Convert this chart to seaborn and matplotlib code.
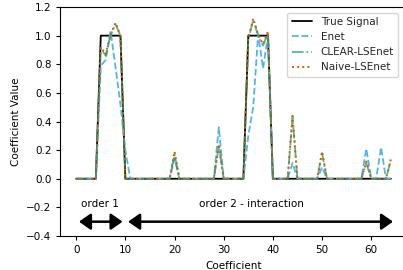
import matplotlib
matplotlib.use("Agg")
import matplotlib.pyplot as plt
import numpy as np
import seaborn as sns

# ------------------------------------------------------------------------------
# Data
# ------------------------------------------------------------------------------

coef_index = list(range(65))

true_signal = [
    0, 0, 0, 0, 0, 1, 1, 1, 1, 1,
    0, 0, 0, 0, 0, 0, 0, 0, 0, 0,
    0, 0, 0, 0, 0, 0, 0, 0, 0, 0,
    0, 0, 0, 0, 0, 1, 1, 1, 1, 1,
    0, 0, 0, 0, 0, 0, 0, 0, 0, 0,
    0, 0, 0, 0, 0, 0, 0, 0, 0, 0,
    0, 0, 0, 0, 0,
]

enet = [
    0, 0, 0, 0, 0, 0.79, 0.83, 1.03, 0.78, 0.52,
    0.20, 0, 0, 0, 0, 0, 0, 0, 0, 0,
    0.14, 0, 0, 0, 0, 0, 0, 0, 0, 0.36,
    0, 0, 0, 0, 0, 0.30, 0.50, 1.01, 0.77, 1.00,
    0, 0, 0, 0, 0.11, 0, 0, 0, 0, 0,
    0.08, 0, 0, 0, 0, 0, 0, 0, 0, 0.21,
    0, 0, 0.22, 0, 0,
]

clear_lsenet = [
    0, 0, 0, 0, 0, 0.91, 0.86, 1.00, 1.08, 1.00,
    0, 0, 0, 0, 0, 0, 0, 0, 0, 0,
    0.17, 0, 0, 0, 0, 0, 0, 0, 0, 0.23,
    0, 0, 0, 0, 0, 0.97, 1.11, 1.00, 0.93, 1.02,
    0, 0, 0, 0, 0.43, 0, 0, 0, 0, 0,
    0.18, 0, 0, 0, 0, 0, 0, 0, 0, 0.11,
    0, 0, 0, 0, 0.13,
]

naive_lsenet = [
    0, 0, 0, 0, 0, 0.92, 0.87, 1.01, 1.09, 1.00,
    0, 0, 0, 0, 0, 0, 0, 0, 0, 0,
    0.19, 0, 0, 0, 0, 0, 0, 0, 0, 0.24,
    0, 0, 0, 0, 0, 0.98, 1.12, 1.01, 0.94, 1.03,
    0, 0, 0, 0, 0.44, 0, 0, 0, 0, 0,
    0.19, 0, 0, 0, 0, 0, 0, 0, 0, 0.12,
    0, 0, 0, 0, 0.14,
]

# block boundaries for the annotation arrows
order1_span = (0, 10)
order2_span = (10, 65)

# ------------------------------------------------------------------------------
# Plot
# ------------------------------------------------------------------------------

sns.set_style("ticks")
plt.rcParams['font.family'] = ['DejaVu Sans']

fig = plt.figure(figsize=(4.03, 2.70), dpi=100)
ax = fig.add_axes([0.150, 0.126, 0.859, 0.848])

sns.lineplot(x=coef_index, y=true_signal, ax=ax, color='black',
             linewidth=1.3, label='True Signal')
sns.lineplot(x=coef_index, y=enet, ax=ax, color='#56B4E9',
             linestyle='--', linewidth=1.3, label='Enet')
sns.lineplot(x=coef_index, y=clear_lsenet, ax=ax, color='#009E73',
             linestyle='-.', linewidth=1.3, alpha=0.7, label='CLEAR-LSEnet')
sns.lineplot(x=coef_index, y=naive_lsenet, ax=ax, color='#D55E00',
             linestyle=':', linewidth=1.4, label='Naive-LSEnet')

# ===== Order annotations =====
for span in (order1_span, order2_span):
    ax.annotate(
        '', xy=(span[0], -0.3), xytext=(span[1], -0.3),
        arrowprops=dict(arrowstyle='<|-|>,head_length=0.5,head_width=0.35',
                        color='black', lw=1.8, mutation_scale=14)
    )
ax.text(1, -0.2, 'order 1', fontsize=7.5, color='black')
ax.text(25, -0.2, 'order 2 - interaction', fontsize=7.5, color='black')

ax.set_xlim(-3.2, 67.2)
ax.set_ylim(-0.4, 1.2)
ax.set_xticks(range(0, 61, 10))
ax.set_yticks(np.arange(-0.4, 1.21, 0.2))
ax.tick_params(labelsize=7.5, colors='black', length=3)
for spine in ax.spines.values():
    spine.set_color('black')

ax.set_xlabel('Coefficient', fontsize=7.5, color='black')
ax.set_ylabel('Coefficient Value', fontsize=7.5, color='black')

# legend sits inside the visible part of the figure
ax.legend(loc='upper right', bbox_to_anchor=(0.988, 0.953),
          bbox_transform=fig.transFigure, borderaxespad=0,
          fontsize=7.5, frameon=True, handlelength=2.0)

fig.savefig('out.png', dpi=100)
